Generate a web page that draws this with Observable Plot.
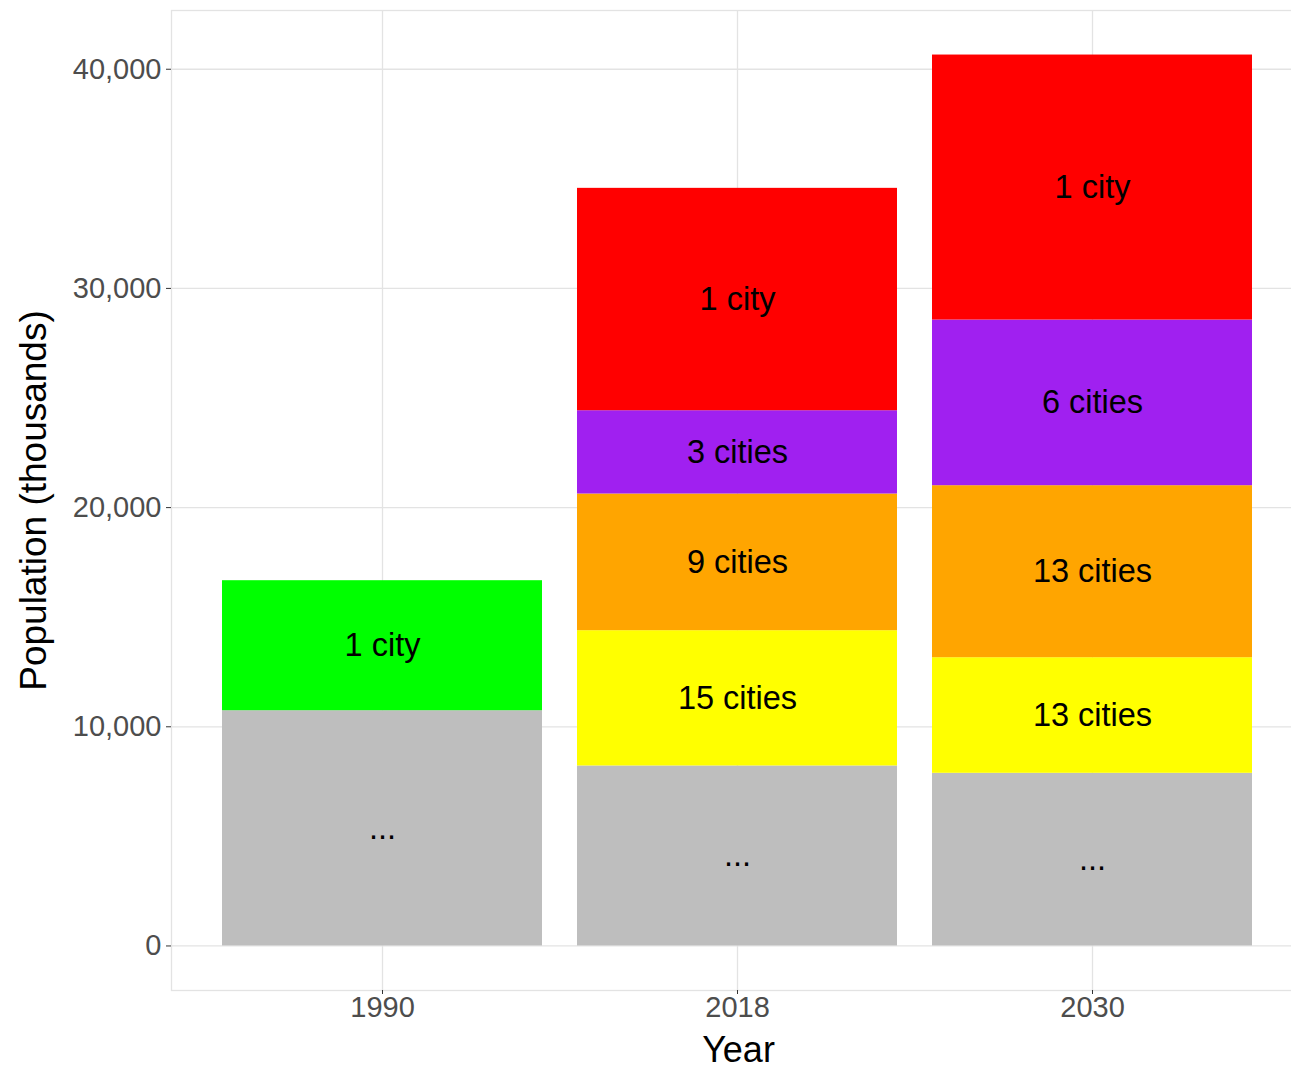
<!DOCTYPE html>
<html>
<head>
<meta charset="utf-8">
<script src="https://cdn.jsdelivr.net/npm/d3@7"></script>
<script src="https://cdn.jsdelivr.net/npm/@observablehq/plot@0.6"></script>
<style>
  html, body { margin: 0; padding: 0; background: #fff; overflow: hidden; }
  #chart svg { overflow: hidden !important; display: block; max-width: none !important; }
</style>
</head>
<body>
<div id="chart"></div>
<script>
// ---- data (population, thousands) ----
const years = ["1990", "2018", "2030"];
const segmentYear  = ["1990", "1990", "2018", "2018", "2018", "2018", "2018", "2030", "2030", "2030", "2030", "2030"];
const segmentGroup = ["rest", "top1990", "rest", "tier3", "tier2", "tier1", "top", "rest", "tier3", "tier2", "tier1", "top"];
const segmentValue = [10734, 5931, 8212, 6172, 6236, 3800, 10146, 7878, 5274, 7848, 7558, 12090];
const segmentLabel = ["...", "1 city", "...", "15 cities", "9 cities", "3 cities", "1 city", "...", "13 cities", "13 cities", "6 cities", "1 city"];
const groups = ["rest", "top1990", "tier3", "tier2", "tier1", "top"];
const groupColors = ["#bebebe", "#00ff00", "#ffff00", "#ffa500", "#a020f0", "#ff0000"];
const yTicks = [0, 10000, 20000, 30000, 40000];
const xTitle = "Year";
const yTitle = "Population (thousands)";

const data = segmentYear.map((year, i) => ({
  year, group: segmentGroup[i], value: segmentValue[i], label: segmentLabel[i]
}));

const font = "'Liberation Sans', Arial, Helvetica, sans-serif";
const gridColor = "#e3e3e3";

const chart = Plot.plot({
  width: 1291,
  height: 1071,
  marginLeft: 171,
  marginRight: -14,
  marginTop: 10,
  marginBottom: 81,
  style: { fontFamily: font, background: "#fff", overflow: "hidden" },
  x: { domain: years, range: [169, 1305], paddingInner: 0.1, paddingOuter: 0.15, axis: null },
  y: { domain: [-2032, 42680], range: [990, 10], axis: null },
  color: { domain: groups, range: groupColors },
  marks: [
    Plot.gridY(yTicks, { stroke: gridColor, strokeOpacity: 1, strokeWidth: 1.3 }),
    Plot.gridX(years, { stroke: gridColor, strokeOpacity: 1, strokeWidth: 1.3 }),
    Plot.frame({ stroke: gridColor, strokeWidth: 1.3 }),
    Plot.barY(data, { x: "year", y: "value", fill: "group" }),
    Plot.text(data, Plot.stackY({
      x: "year", y: "value", text: "label",
      fontSize: 32.5, fill: "black", fontFamily: font
    })),
    Plot.axisY({
      ticks: yTicks, tickFormat: d3.format(","), tickSize: 5, tickPadding: 5,
      fontSize: 29, fill: "#4d4d4d", stroke: "#333", label: null, fontFamily: font
    }),
    Plot.axisX({
      tickSize: 4, tickPadding: 2, fontSize: 29, fill: "#4d4d4d", stroke: "#333",
      label: null, fontFamily: font
    }),
    Plot.text([xTitle], {
      frameAnchor: "bottom", dy: 60, text: d => d, fontSize: 36, fill: "black",
      textAnchor: "middle", lineAnchor: "middle", fontFamily: font
    }),
    Plot.text([yTitle], {
      frameAnchor: "left", dx: -137, rotate: -90, text: d => d, fontSize: 37, fill: "black",
      textAnchor: "middle", lineAnchor: "middle", fontFamily: font
    })
  ]
});

document.getElementById("chart").appendChild(chart);
</script>
</body>
</html>
